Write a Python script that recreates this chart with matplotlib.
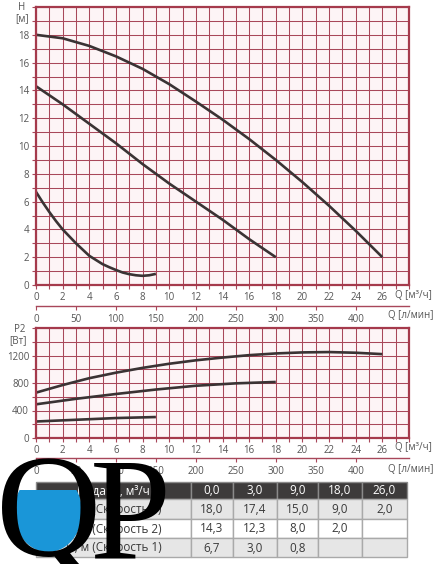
import matplotlib
matplotlib.use("Agg")
import matplotlib.pyplot as plt
from matplotlib.patches import Rectangle, Polygon
import numpy as np

plt.rcParams['font.family'] = ['Open Sans', 'DejaVu Sans']

# ---------------- data ----------------
# Head curves H [m] vs Q [m3/h]
q_s3 = [0, 2, 4, 6, 8, 10, 12, 14, 16, 18, 20, 22, 24, 26]
h_s3 = [18.0, 17.75, 17.2, 16.45, 15.55, 14.45, 13.2, 11.9, 10.5, 9.0, 7.4, 5.7, 3.9, 2.0]
q_s2 = [0, 2, 4, 6, 8, 10, 12, 14, 16, 18]
h_s2 = [14.3, 13.0, 11.6, 10.2, 8.7, 7.3, 6.0, 4.7, 3.3, 2.0]
q_s1 = [0, 0.5, 1, 1.5, 2, 2.5, 3, 3.5, 4, 4.5, 5, 5.5, 6, 6.5, 7, 7.5, 8, 8.5, 9]
h_s1 = [6.7, 5.95, 5.25, 4.6, 4.0, 3.5, 3.0, 2.55, 2.1, 1.8, 1.5, 1.28, 1.08, 0.9, 0.78, 0.7, 0.66, 0.7, 0.8]

# Power curves P2 [W] vs Q [m3/h]
qp_s3 = [0, 2, 4, 6, 8, 10, 12, 14, 16, 18, 20, 22, 24, 26]
p_s3 = [660, 770, 870, 950, 1020, 1080, 1130, 1170, 1205, 1230, 1245, 1250, 1240, 1220]
qp_s2 = [0, 3, 6, 9, 12, 15, 18]
p_s2 = [490, 570, 640, 705, 760, 795, 815]
qp_s1 = [0, 3, 6, 9]
p_s1 = [240, 265, 290, 305]

# Axis ticks
q_ticks = list(range(0, 29))
q_labels = [str(v) if (v % 2 == 0 and v <= 26) else '' for v in q_ticks]
lmin_ticks = list(range(0, 401, 50))
h_ticks = list(range(0, 21))
h_labels = [str(v) if (v % 2 == 0 and v <= 18) else '' for v in h_ticks]
p_ticks = list(range(0, 1601, 200))
p_labels = [str(v) if (v % 400 == 0 and v <= 1200) else '' for v in p_ticks]

# Table
table_header = ['Подача, м³/ч', '0,0', '3,0', '9,0', '18,0', '26,0']
table_rows = [
    ['H, м (Скорость 3)', '18,0', '17,4', '15,0', '9,0', '2,0'],
    ['H, м (Скорость 2)', '14,3', '12,3', '8,0', '2,0', ''],
    ['H, м (Скорость 1)', '6,7', '3,0', '0,8', '', ''],
]

# ---------------- style ----------------
W, H = 441, 564
GRID = '#a8475a'
FRAME = '#a53a4c'
CURVE = '#3a3334'
TXT = '#555555'
FACE = '#fdf4f6'


def fr(x0, y0, x1, y1):
    return [x0 / W, 1 - y1 / H, (x1 - x0) / W, (y1 - y0) / H]


fig = plt.figure(figsize=(W / 100, H / 100), dpi=100)


def style_main(ax):
    ax.set_facecolor(FACE)
    for sp in ax.spines.values():
        sp.set_color(FRAME)
        sp.set_linewidth(1.6)
    ax.grid(True, color=GRID, lw=0.75)
    ax.set_axisbelow(True)
    ax.tick_params(direction='out', length=3, width=0.8, color=GRID,
                   labelsize=7, labelcolor=TXT, pad=2)


def secondary(y, ypx_label):
    axs = fig.add_axes(fr(36, y - 1, 409, y))
    axs.set_facecolor('none')
    for s in ['top', 'left', 'right']:
        axs.spines[s].set_visible(False)
    axs.spines['bottom'].set_color(GRID)
    axs.spines['bottom'].set_linewidth(1.0)
    axs.set_xlim(0, 28 * 1000 / 60)
    axs.set_yticks([])
    axs.set_xticks(lmin_ticks)
    axs.set_xticklabels([str(v) for v in lmin_ticks])
    axs.tick_params(direction='out', length=3, width=0.8, color=GRID,
                    labelsize=7, labelcolor=TXT, pad=3)
    fig.text(434 / W, 1 - ypx_label / H, 'Q [л/мин]', ha='right', va='center',
             fontsize=7, color=TXT)


# ---- top chart: H ----
ax1 = fig.add_axes(fr(36, 7, 409, 285))
style_main(ax1)
ax1.set_xlim(0, 28)
ax1.set_ylim(0, 20)
ax1.set_xticks(q_ticks)
ax1.set_xticklabels(q_labels)
ax1.set_yticks(h_ticks)
ax1.set_yticklabels(h_labels)
for q, h in [(q_s3, h_s3), (q_s2, h_s2), (q_s1, h_s1)]:
    ax1.plot(q, h, color=CURVE, lw=1.9, solid_capstyle='butt', solid_joinstyle='round')
fig.text(22 / W, 1 - 8 / H, 'H', ha='center', va='center', fontsize=7, color=TXT)
fig.text(22 / W, 1 - 19 / H, '[м]', ha='center', va='center', fontsize=7, color=TXT)
fig.text(432 / W, 1 - 296 / H, 'Q [м³/ч]', ha='right', va='center', fontsize=7, color=TXT)
secondary(306, 316)

# ---- bottom chart: P2 ----
ax2 = fig.add_axes(fr(36, 328, 409, 438))
style_main(ax2)
ax2.set_xlim(0, 28)
ax2.set_ylim(0, 1600)
ax2.set_xticks(q_ticks)
ax2.set_xticklabels(q_labels)
ax2.set_yticks(p_ticks)
ax2.set_yticklabels(p_labels)
for q, p in [(qp_s3, p_s3), (qp_s2, p_s2), (qp_s1, p_s1)]:
    ax2.plot(q, p, color=CURVE, lw=1.9, solid_capstyle='butt', solid_joinstyle='round')
fig.text(20 / W, 1 - 330 / H, 'P2', ha='center', va='center', fontsize=7, color=TXT)
fig.text(18 / W, 1 - 341 / H, '[Вт]', ha='center', va='center', fontsize=7, color=TXT)
fig.text(432 / W, 1 - 448 / H, 'Q [м³/ч]', ha='right', va='center', fontsize=7, color=TXT)
secondary(458, 470)

# ---- table ----
tab = fig.add_axes(fr(36, 482, 407, 557))
tab.set_xlim(0, 371)
tab.set_ylim(75, 0)
tab.axis('off')
col_edges = [0, 155, 197, 241, 282, 326, 371]
row_edges = [0, 17, 37, 56, 75]
row_colors = ['#3d3b3b', '#e6e6e6', '#ffffff', '#e6e6e6']
all_rows = [table_header] + table_rows
for r, row in enumerate(all_rows):
    y0, y1 = row_edges[r], row_edges[r + 1]
    for c, val in enumerate(row):
        x0, x1 = col_edges[c], col_edges[c + 1]
        ec = '#8a8a8a' if r == 0 else '#a9a9a9'
        tab.add_patch(Rectangle((x0, y0), x1 - x0, y1 - y0, facecolor=row_colors[r],
                                edgecolor=ec, lw=1.0, clip_on=False))
        tab.text((x0 + x1) / 2, (y0 + y1) / 2 + 0.5, val, ha='center', va='center',
                 fontsize=8.5, color='white' if r == 0 else '#3a3a3a')

# ---- logo "QP" ----
cx, cy, rx, ry, wl = 48, 512, 34, 40, 490
a0 = np.arcsin((wl - cy) / ry)
poly_px = [(cx + rx * np.cos(a), cy + ry * np.sin(a))
           for a in np.linspace(a0, np.pi - a0, 120)]
fig.patches.append(Polygon([(x / W, 1 - y / H) for x, y in poly_px], closed=True,
                           transform=fig.transFigure, facecolor='#1a96d8',
                           edgecolor='none', zorder=2))
fig.text(-4 / W, 1 - 556 / H, 'Q', family='Liberation Serif', fontsize=105,
         color='black', ha='left', va='baseline', zorder=4)
fig.text(90 / W, 1 - 558 / H, 'P', family='Liberation Serif', fontsize=105,
         color='black', ha='left', va='baseline', zorder=4)

fig.savefig('out.png', dpi=100)
